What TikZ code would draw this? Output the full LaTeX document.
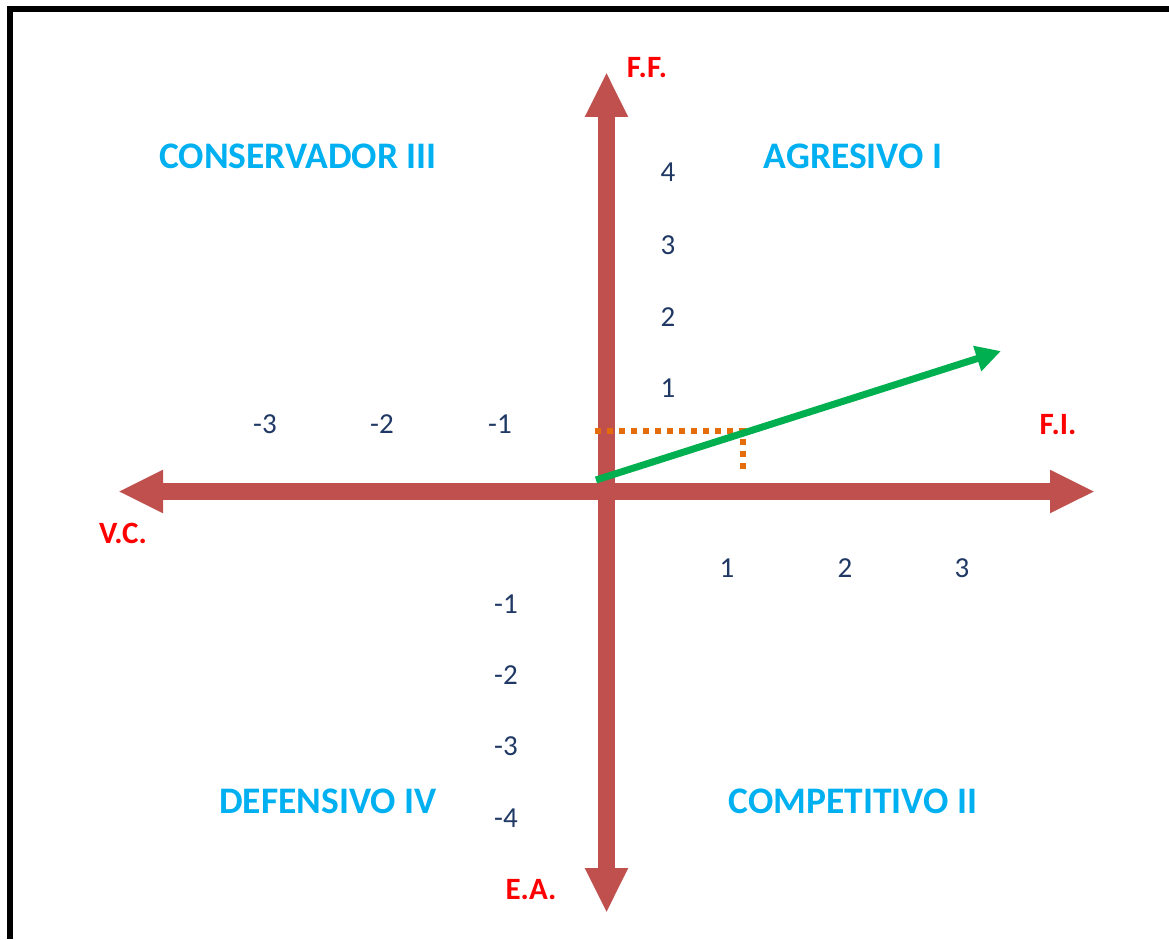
\documentclass[tikz,border=0pt]{standalone}
\usepackage{fontspec}
\setmainfont{Carlito}
\usetikzlibrary{arrows.meta}
\definecolor{axisred}{HTML}{C0504D}
\definecolor{quadblue}{HTML}{00B0F0}
\definecolor{labred}{HTML}{FF0000}
\definecolor{ticknavy}{HTML}{1F3864}
\definecolor{vecgreen}{HTML}{00B050}
\definecolor{guideorange}{HTML}{E46C0A}
\tikzset{
  axisline/.style={draw=axisred, line width=17pt,
    arrows={Triangle[length=45pt,width=40pt,fill=axisred]-Triangle[length=45pt,width=40pt,fill=axisred]}},
  quadlabel/.style={text=quadblue, font=\fontsize{37.5}{42}\selectfont\bfseries, inner sep=0pt},
  axlabel/.style={text=labred, font=\fontsize{31}{35}\selectfont\bfseries, inner sep=0pt},
  ticklabel/.style={text=ticknavy, font=\fontsize{29}{33}\selectfont, inner sep=0pt},
  vector/.style={draw=vecgreen, line width=7pt, arrows={-Triangle[length=25pt,width=25pt,fill=vecgreen]}},
  guide/.style={draw=guideorange, line width=6pt, dash pattern=on 6pt off 6pt},
  framebar/.style={fill=black, draw=none}
}
\begin{document}
\begin{tikzpicture}[x=1pt,y=-1pt]
\useasboundingbox (0,0) rectangle (1169,939);
% frame (top and left edges visible)
\fill[framebar] (7,6) rectangle (1169,12);
\fill[framebar] (7,6) rectangle (13,939);
% axis endpoints
\coordinate (W) at (118,491.5);
\coordinate (E) at (1095,491.5);
\coordinate (N) at (606.5,72);
\coordinate (S) at (606.5,913);
\draw[axisline] (W) -- (E);
\draw[axisline] (S) -- (N);
% guides
\coordinate (G0) at (595,431);
\coordinate (G1) at (743,431);
\coordinate (G2) at (743,472);
\draw[guide] (G0) -- (G1) -- (G2);
% vector
\coordinate (V0) at (596,480);
\coordinate (V1) at (1001,351);
\draw[vector] (V0) -- (V1);
% quadrant labels
\node[quadlabel] (q3) at (298,156) {CONSERVADOR III};
\node[quadlabel] (q1) at (853,156) {AGRESIVO I};
\node[quadlabel] (q4) at (328,801) {DEFENSIVO IV};
\node[quadlabel] (q2) at (853,801) {COMPETITIVO II};
% axis labels
\node[axlabel] (ff) at (647,68) {F.F.};
\node[axlabel] (fi) at (1058,425) {F.I.};
\node[axlabel] (vc) at (123,533) {V.C.};
\node[axlabel] (ea) at (531,890) {E.A.};
% ticks
\node[ticklabel] (yp4) at (668,172) {4};
\node[ticklabel] (yp3) at (668,245) {3};
\node[ticklabel] (yp2) at (668,317) {2};
\node[ticklabel] (yp1) at (668,388) {1};
\node[ticklabel] (xn3) at (265,424) {-3};
\node[ticklabel] (xn2) at (382,424) {-2};
\node[ticklabel] (xn1) at (500,424) {-1};
\node[ticklabel] (xp1) at (727,568) {1};
\node[ticklabel] (xp2) at (845,568) {2};
\node[ticklabel] (xp3) at (962,568) {3};
\node[ticklabel] (yn1) at (506,604) {-1};
\node[ticklabel] (yn2) at (506,675) {-2};
\node[ticklabel] (yn3) at (506,746) {-3};
\node[ticklabel] (yn4) at (506,818) {-4};
\end{tikzpicture}
\end{document}
